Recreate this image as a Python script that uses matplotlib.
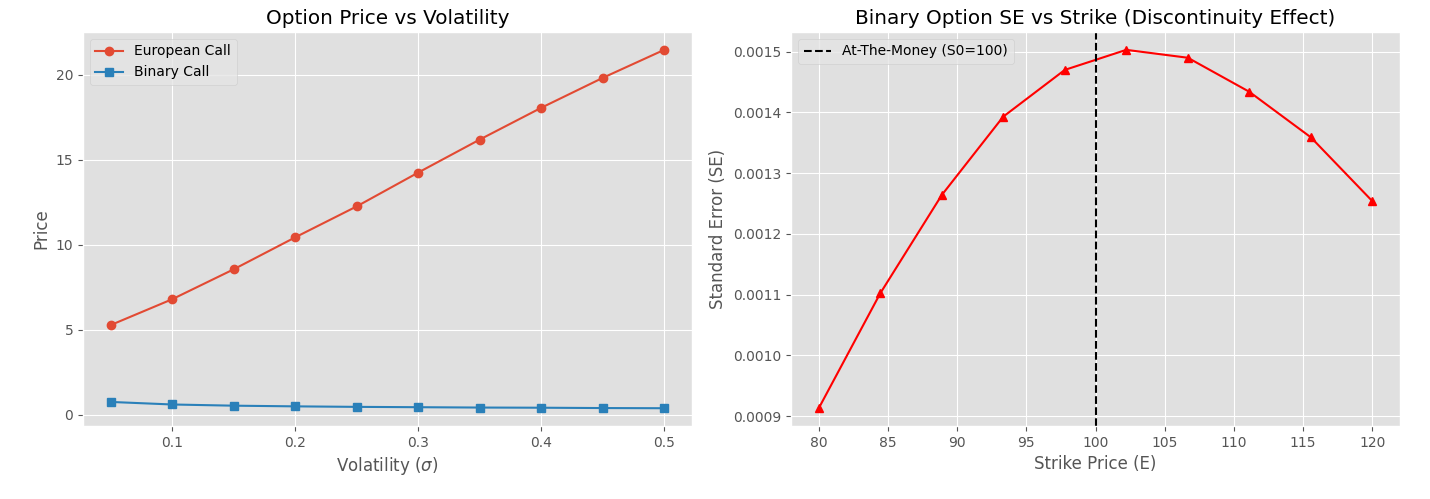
import numpy as np
import matplotlib
matplotlib.use("Agg")
import matplotlib.pyplot as plt

plt.style.use('ggplot')

# volatility sweep
sigmas = [0.05, 0.1, 0.15, 0.2, 0.25, 0.3, 0.35, 0.4, 0.45, 0.5]
euro_prices = [5.28, 6.80, 8.56, 10.44, 12.26, 14.25, 16.19, 18.06, 19.82, 21.47]
binary_prices = [0.76, 0.61, 0.54, 0.50, 0.47, 0.45, 0.43, 0.42, 0.40, 0.39]

# strike sweep
strikes = [80.0, 84.44, 88.89, 93.33, 97.78, 102.22, 106.67, 111.11, 115.56, 120.0]
binary_se = [0.000913, 0.001102, 0.001264, 0.001393, 0.001470,
             0.001503, 0.001490, 0.001434, 0.001359, 0.001254]
S0 = 100

fig, (ax1, ax2) = plt.subplots(1, 2, figsize=(14.3, 4.99), dpi=100)

ax1.plot(sigmas, euro_prices, 'o-', label='European Call')
ax1.plot(sigmas, binary_prices, 's-', color='#2A80B9', label='Binary Call')
ax1.set_xlabel(r'Volatility ($\sigma$)')
ax1.set_ylabel('Price')
ax1.set_title('Option Price vs Volatility')
ax1.legend(loc='upper left')

ax2.plot(strikes, binary_se, 'r^-')
ax2.axvline(S0, color='k', linestyle='--', label='At-The-Money (S0=100)')
ax2.set_xlabel('Strike Price (E)')
ax2.set_ylabel('Standard Error (SE)')
ax2.set_title('Binary Option SE vs Strike (Discontinuity Effect)')
ax2.legend(loc='upper left')

for ax in (ax1, ax2):
    ax.set_facecolor('#E0E0E0')

plt.subplots_adjust(left=0.058, right=0.979, bottom=0.146, top=0.936, wspace=0.163)
plt.savefig('out.png')
